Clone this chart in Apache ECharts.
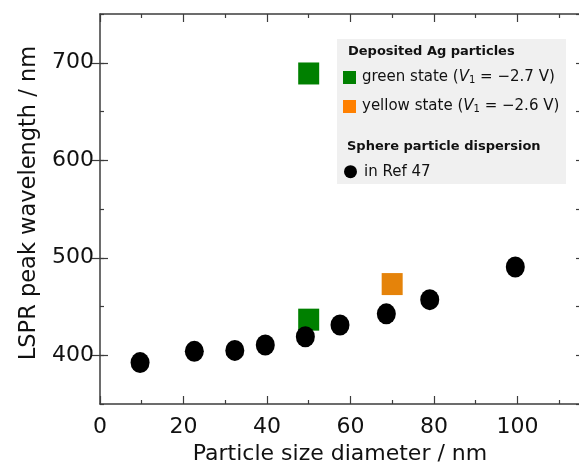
<!DOCTYPE html>
<html>
<head>
<meta charset="utf-8">
<script src="https://cdn.jsdelivr.net/npm/echarts@6/dist/echarts.min.js"></script>
<style>html,body{margin:0;padding:0;background:#fff;overflow:hidden;}#c{width:579px;height:469px;}</style>
</head>
<body>
<div id="c"></div>
<script>
// Data
const greenState = [[50, 689], [50, 436.5]];          // Deposited Ag, green state (V1 = -2.7 V)
const yellowState = [[70, 473]];                      // Deposited Ag, yellow state (V1 = -2.6 V)
const refSizes = [9.6, 22.6, 32.3, 39.6, 49.2, 57.5, 68.6, 79, 99.5];
const refWavelengths = [392.5, 404, 405, 410.5, 419, 431, 442.5, 457, 490.5];
const xTicks = [0, 20, 40, 60, 80, 100];
const yTicks = [400, 500, 600, 700];

const FONT = 'DejaVu Sans';
const AX = '#3c3c3c';
const refData = refSizes.map((x, i) => [x, refWavelengths[i]]);

const chart = echarts.init(document.getElementById('c'), null, {renderer: 'canvas', width: 579, height: 469});

const lineStyle = {color: AX, width: 1.5};
const tickStyle = {color: AX, width: 1.2};

function xAx(pos, withLabels) {
  const a = {
    type: 'value', position: pos, min: 0, max: 115, interval: 20,
    axisLine: {show: true, onZero: false, lineStyle: lineStyle},
    axisTick: {show: true, inside: true, length: 8, lineStyle: tickStyle},
    minorTick: {show: true, splitNumber: 2, length: 4, lineStyle: tickStyle},
    splitLine: {show: false},
    axisLabel: {show: false}
  };
  if (withLabels) {
    a.axisLabel = {margin: 12, color: '#111', fontFamily: FONT, fontSize: 22,
      formatter: v => xTicks.includes(v) ? String(v) : ''};
    a.name = 'Particle size diameter / nm';
    a.nameLocation = 'middle';
    a.nameGap = 38;
    a.nameTextStyle = {color: '#111', fontFamily: FONT, fontSize: 22};
  }
  return a;
}
function yMinor(pos) {
  return {
    type: 'value', position: pos, min: 350, max: 750, interval: 50,
    axisLine: {show: true, onZero: false, lineStyle: lineStyle},
    axisTick: {show: true, inside: true, length: 4, lineStyle: tickStyle},
    splitLine: {show: false}, axisLabel: {show: false}
  };
}
function yMajor(pos, withLabels) {
  const a = {
    type: 'value', position: pos, min: 350, max: 750, interval: 50,
    axisLine: {show: false},
    axisTick: {show: true, inside: true, length: 8, lineStyle: tickStyle, customValues: yTicks},
    splitLine: {show: false}, axisLabel: {show: false}
  };
  if (withLabels) {
    a.axisLabel = {show: true, margin: 6, color: '#111', fontFamily: FONT, fontSize: 22, customValues: yTicks};
    a.name = 'LSPR peak wavelength / nm';
    a.nameLocation = 'middle';
    a.nameGap = 58;
    a.nameTextStyle = {color: '#111', fontFamily: FONT, fontSize: 22.5, padding: [0, 0, 0, 12]};
  }
  return a;
}

chart.setOption({
  animation: false,
  backgroundColor: '#ffffff',
  grid: {left: 100, right: -1, top: 14, bottom: 65, containLabel: false, outerBoundsMode: 'none'},
  xAxis: [xAx('bottom', true), xAx('top', false)],
  yAxis: [yMajor('left', true), yMinor('left'), yMajor('right', false), yMinor('right')],
  series: [
    {
      name: 'green state', type: 'scatter', xAxisIndex: 0, yAxisIndex: 0,
      data: greenState, symbol: 'rect', symbolSize: [21, 22],
      itemStyle: {color: '#008000', opacity: 1}, z: 2
    },
    {
      name: 'yellow state', type: 'scatter', xAxisIndex: 0, yAxisIndex: 0,
      data: yellowState, symbol: 'rect', symbolSize: [21, 22],
      itemStyle: {color: '#e5830a', opacity: 1}, z: 2
    },
    {
      name: 'in Ref 47', type: 'scatter', xAxisIndex: 0, yAxisIndex: 0,
      data: refData, symbol: 'circle', symbolSize: [19, 21],
      itemStyle: {color: '#000000', opacity: 1}, z: 3
    }
  ],
  graphic: [
    {type: 'rect', shape: {x: 337, y: 39, width: 229, height: 145}, style: {fill: '#f0f0f0'}, z: 10},
    {type: 'text', z: 11, style: {x: 348, y: 52, text: 'Deposited Ag particles', fill: '#111',
      font: 'bold 13px "DejaVu Sans"', textVerticalAlign: 'middle'}},
    {type: 'rect', z: 11, shape: {x: 343, y: 71, width: 13, height: 13}, style: {fill: '#008000'}},
    {type: 'text', z: 11, style: {x: 362, y: 77, fill: '#111', textVerticalAlign: 'middle',
      fontFamily: FONT, fontSize: 15,
      text: 'green state ({v|V}{s|1} = \u22122.7 V)',
      rich: {v: {fontStyle: 'italic', fontFamily: FONT, fontSize: 15},
             s: {fontFamily: FONT, fontSize: 10, padding: [7, 0, 0, 0]}}}},
    {type: 'rect', z: 11, shape: {x: 343, y: 100, width: 13, height: 13}, style: {fill: '#ff8000'}},
    {type: 'text', z: 11, style: {x: 362, y: 106, fill: '#111', textVerticalAlign: 'middle',
      fontFamily: FONT, fontSize: 15,
      text: 'yellow state ({v|V}{s|1} = \u22122.6 V)',
      rich: {v: {fontStyle: 'italic', fontFamily: FONT, fontSize: 15},
             s: {fontFamily: FONT, fontSize: 10, padding: [7, 0, 0, 0]}}}},
    {type: 'text', z: 11, style: {x: 347, y: 147, text: 'Sphere particle dispersion', fill: '#111',
      font: 'bold 13px "DejaVu Sans"', textVerticalAlign: 'middle'}},
    {type: 'circle', z: 11, shape: {cx: 350.5, cy: 171.7, r: 6.5}, style: {fill: '#000'}},
    {type: 'text', z: 11, style: {x: 364, y: 172, text: 'in Ref 47', fill: '#111',
      fontFamily: FONT, fontSize: 15, textVerticalAlign: 'middle'}}
  ]
});
</script>
</body>
</html>
